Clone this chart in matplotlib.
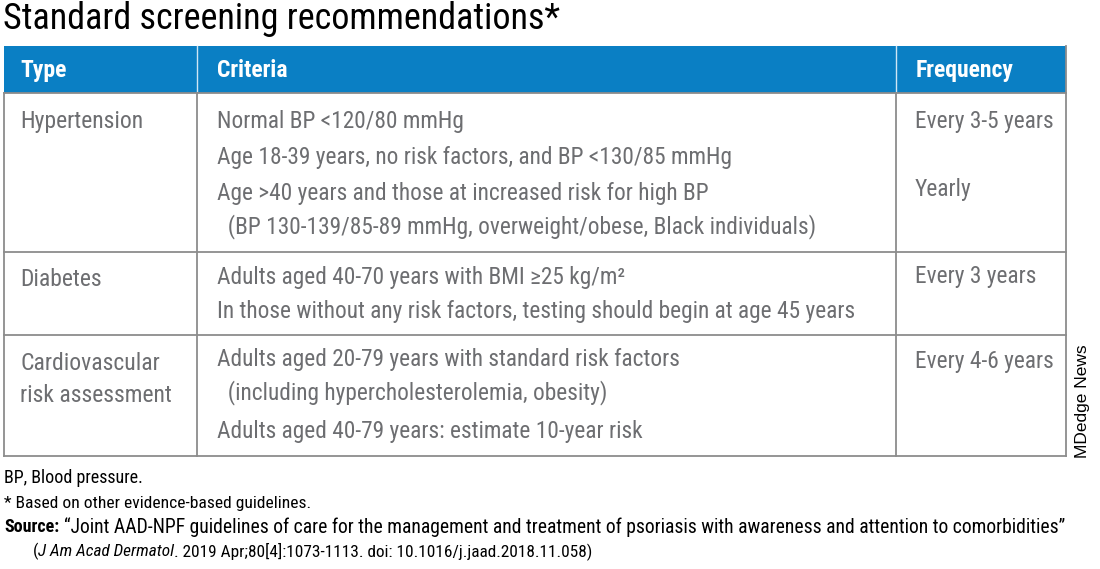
import matplotlib
matplotlib.use("Agg")
import matplotlib.pyplot as plt
from matplotlib.patches import Rectangle

# Contenido de la tabla
titulo = "Standard screening recommendations*"
encabezados = ["Type", "Criteria", "Frequency"]
tipos = ["Hypertension", "Diabetes", "Cardiovascular\nrisk assessment"]
criterios = [
    ["Normal BP <120/80 mmHg",
     "Age 18-39 years, no risk factors, and BP <130/85 mmHg",
     "Age >40 years and those at increased risk for high BP",
     "  (BP 130-139/85-89 mmHg, overweight/obese, Black individuals)"],
    ["Adults aged 40-70 years with BMI \u226525 kg/m\u00b2",
     "In those without any risk factors, testing should begin at age 45 years"],
    ["Adults aged 20-79 years with standard risk factors",
     "  (including hypercholesterolemia, obesity)",
     "Adults aged 40-79 years: estimate 10-year risk"],
]
frecuencias = [["Every 3-5 years", "Yearly"], ["Every 3 years"], ["Every 4-6 years"]]
notas = ["BP, Blood pressure.", "* Based on other evidence-based guidelines."]
fuente = "\u201cJoint AAD-NPF guidelines of care for the management and treatment of psoriasis with awareness and attention to comorbidities\u201d"
revista = "J Am Acad Dermatol"
cita = ". 2019 Apr;80[4]:1073-1113. doi: 10.1016/j.jaad.2018.11.058)"
credito = "MDedge News"

# Posiciones (pixeles)
x_col = [4, 197, 896, 1066]
y_filas = [93, 252, 335, 456]
y_tipo = [121, 279, 379]
y_crit = [[121, 157, 193, 227], [277, 311], [359, 393, 431]]
y_frec = [[121, 189], [276], [361]]

AZUL = "#0a7fc4"
GRIS = "#6d6e71"
LINEA = "#8c8c8c"
FUENTE = "Roboto Condensed"

fig = plt.figure(figsize=(11, 5.69), dpi=100)
ax = fig.add_axes([0, 0, 1, 1])
ax.set_xlim(0, 1100)
ax.set_ylim(569, 0)
ax.axis("off")

ax.text(3, 19, titulo, fontsize=26, family=FUENTE, color="black", va="center")

# encabezado azul
ax.add_patch(Rectangle((x_col[0], 46), x_col[3] - x_col[0], y_filas[0] - 46, color=AZUL, lw=0))
for i, h in enumerate(encabezados):
    ax.text(x_col[i] + 16 if i == 0 else x_col[i] + 20, 70, h, fontsize=17, family=FUENTE,
            weight="bold", color="white", va="center")
for x in x_col[1:3]:
    ax.plot([x, x], [46, y_filas[0]], color="#cfe6f5", lw=1)

# lineas de la tabla
for y in y_filas:
    ax.plot([x_col[0], x_col[3]], [y, y], color=LINEA, lw=1.3)
for x in x_col:
    ax.plot([x, x], [y_filas[0], y_filas[-1]], color=LINEA, lw=1.3)
ax.plot([x_col[3], x_col[3]], [46, y_filas[0]], color=LINEA, lw=1.3)

# filas
for i, t in enumerate(tipos):
    ax.text(x_col[0] + 16, y_tipo[i], t, fontsize=17, family=FUENTE, color=GRIS,
            va="center", linespacing=1.5)
    for txt, y in zip(criterios[i], y_crit[i]):
        ax.text(x_col[1] + 20, y, txt, fontsize=16.8, family=FUENTE, color=GRIS, va="center")
    for txt, y in zip(frecuencias[i], y_frec[i]):
        ax.text(x_col[2] + 19, y, txt, fontsize=16.8, family=FUENTE, color=GRIS, va="center")

# notas al pie
ax.text(4, 478, notas[0], fontsize=13, family=FUENTE, color="black", va="center")
ax.text(4, 503, notas[1], fontsize=12.6, family=FUENTE, color="black", va="center")

r = fig.canvas.get_renderer()
s = ax.text(4, 527, "Source:", fontsize=13, family=FUENTE, weight="bold", color="black", va="center")
bb = s.get_window_extent(r)
ax.text(bb.x1 + 5, 527, fuente, fontsize=14.1, family=FUENTE, color="black", va="center")
p = ax.text(33, 551, "(", fontsize=12.4, family=FUENTE, color="black", va="center")
bb = p.get_window_extent(r)
j = ax.text(bb.x1, 551, revista, fontsize=12.4, family=FUENTE, style="italic", color="black", va="center")
bb = j.get_window_extent(r)
ax.text(bb.x1, 551, cita, fontsize=12.4, family=FUENTE, color="black", va="center")

ax.text(1082, 401, credito, fontsize=12.5, family="Liberation Sans", color="black",
        rotation=90, ha="center", va="center")

fig.savefig("out.png", dpi=100)
